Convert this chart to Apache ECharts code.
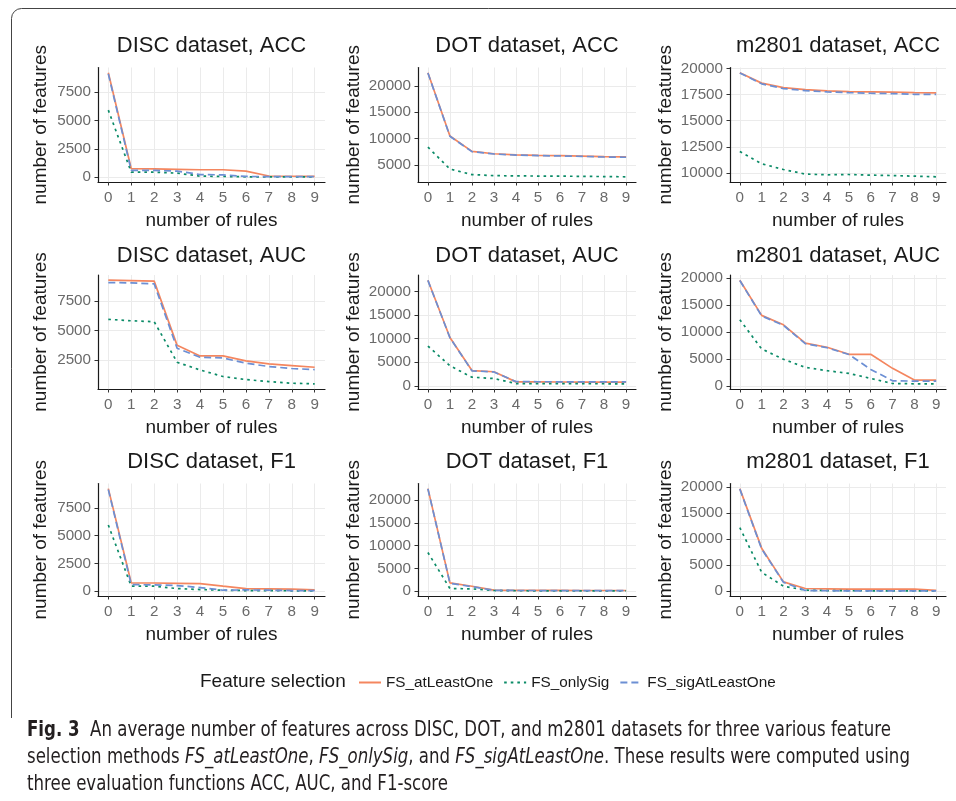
<!DOCTYPE html>
<html>
<head>
<meta charset="utf-8">
<script src="https://cdn.jsdelivr.net/npm/echarts@6/dist/echarts.min.js"></script>
<style>
html,body{margin:0;padding:0;background:#fff;}
#chart{width:956px;height:801px;}
</style>
</head>
<body>
<div id="chart"></div>
<script>
// ---------- DATA ----------
const rules = [0, 1, 2, 3, 4, 5, 6, 7, 8, 9];
const xTicks = [0, 1, 2, 3, 4, 5, 6, 7, 8, 9];
const seriesNames = ['FS_atLeastOne', 'FS_onlySig', 'FS_sigAtLeastOne'];
const datasets = ['DISC', 'DOT', 'm2801'];
const metrics = ['ACC', 'AUC', 'F1'];

// DISC, ACC
const disc_acc_atLeastOne    = [9200, 740, 720, 690, 650, 650, 530, 100, 80, 70];
const disc_acc_onlySig       = [5900, 440, 440, 350, 90, 60, 30, 30, 30, 30];
const disc_acc_sigAtLeastOne = [9100, 600, 590, 530, 230, 200, 60, 50, 50, 50];
// DOT, ACC
const dot_acc_atLeastOne     = [22500, 10500, 7600, 7150, 6950, 6850, 6780, 6700, 6600, 6550];
const dot_acc_onlySig        = [8400, 4250, 3200, 3000, 2950, 2920, 2900, 2870, 2820, 2780];
const dot_acc_sigAtLeastOne  = [22450, 10450, 7550, 7100, 6900, 6800, 6730, 6650, 6530, 6480];
// m2801, ACC
const m2801_acc_atLeastOne    = [19600, 18600, 18170, 17980, 17850, 17790, 17760, 17730, 17690, 17660];
const m2801_acc_onlySig       = [12050, 10870, 10320, 9880, 9810, 9840, 9780, 9740, 9680, 9620];
const m2801_acc_sigAtLeastOne = [19580, 18530, 18080, 17880, 17760, 17690, 17630, 17600, 17530, 17530];
// DISC, AUC
const disc_auc_atLeastOne    = [9280, 9250, 9200, 3740, 2840, 2840, 2420, 2160, 2020, 1880];
const disc_auc_onlySig       = [5950, 5830, 5750, 2300, 1650, 1090, 830, 660, 520, 470];
const disc_auc_sigAtLeastOne = [9080, 9050, 8970, 3490, 2730, 2670, 2220, 1940, 1770, 1680];
// DOT, AUC
const dot_auc_atLeastOne     = [22400, 10250, 3250, 3000, 850, 850, 830, 810, 800, 790];
const dot_auc_onlySig        = [8450, 4260, 1840, 1560, 500, 480, 470, 460, 450, 440];
const dot_auc_sigAtLeastOne  = [22350, 10200, 3200, 2950, 900, 880, 870, 860, 850, 840];
// m2801, AUC
const m2801_auc_atLeastOne    = [19560, 13040, 11300, 7890, 7140, 5840, 5840, 3230, 1060, 1060];
const m2801_auc_onlySig       = [12240, 6830, 4910, 3420, 2800, 2300, 1370, 430, 370, 370];
const m2801_auc_sigAtLeastOne = [19500, 12950, 11200, 7800, 7050, 5800, 3040, 930, 870, 870];
// DISC, F1
const disc_f1_atLeastOne    = [9230, 740, 740, 710, 680, 450, 240, 210, 180, 120];
const disc_f1_onlySig       = [5950, 450, 450, 240, 150, 90, 60, 50, 40, 30];
const disc_f1_sigAtLeastOne = [9140, 600, 570, 510, 330, 90, 120, 90, 60, 60];
// DOT, F1
const dot_f1_atLeastOne     = [22550, 1820, 1090, 220, 200, 180, 170, 160, 150, 150];
const dot_f1_onlySig        = [8510, 580, 510, 150, 100, 90, 80, 80, 70, 70];
const dot_f1_sigAtLeastOne  = [22500, 1750, 1000, 200, 160, 150, 140, 130, 120, 120];
// m2801, F1
const m2801_f1_atLeastOne    = [19680, 8250, 1780, 510, 440, 380, 380, 380, 380, 130];
const m2801_f1_onlySig       = [12190, 3620, 950, 190, 100, 80, 70, 60, 60, 50];
const m2801_f1_sigAtLeastOne = [19600, 8100, 1700, 130, 80, 60, 60, 50, 50, 50];

// y tick labels per panel
const yTicks_disc_acc  = [0, 2500, 5000, 7500];
const yTicks_dot_acc   = [5000, 10000, 15000, 20000];
const yTicks_m2801_acc = [10000, 12500, 15000, 17500, 20000];
const yTicks_disc_auc  = [2500, 5000, 7500];
const yTicks_dot_auc   = [0, 5000, 10000, 15000, 20000];
const yTicks_m2801_auc = [0, 5000, 10000, 15000, 20000];
const yTicks_disc_f1   = [0, 2500, 5000, 7500];
const yTicks_dot_f1    = [0, 5000, 10000, 15000, 20000];
const yTicks_m2801_f1  = [0, 5000, 10000, 15000, 20000];

// ---------- PANELS (row-major) ----------
const panels = [
  {ds: 'DISC',  m: 'ACC', lines: [disc_acc_atLeastOne, disc_acc_onlySig, disc_acc_sigAtLeastOne], ticks: yTicks_disc_acc},
  {ds: 'DOT',   m: 'ACC', lines: [dot_acc_atLeastOne, dot_acc_onlySig, dot_acc_sigAtLeastOne], ticks: yTicks_dot_acc},
  {ds: 'm2801', m: 'ACC', lines: [m2801_acc_atLeastOne, m2801_acc_onlySig, m2801_acc_sigAtLeastOne], ticks: yTicks_m2801_acc},
  {ds: 'DISC',  m: 'AUC', lines: [disc_auc_atLeastOne, disc_auc_onlySig, disc_auc_sigAtLeastOne], ticks: yTicks_disc_auc},
  {ds: 'DOT',   m: 'AUC', lines: [dot_auc_atLeastOne, dot_auc_onlySig, dot_auc_sigAtLeastOne], ticks: yTicks_dot_auc},
  {ds: 'm2801', m: 'AUC', lines: [m2801_auc_atLeastOne, m2801_auc_onlySig, m2801_auc_sigAtLeastOne], ticks: yTicks_m2801_auc},
  {ds: 'DISC',  m: 'F1',  lines: [disc_f1_atLeastOne, disc_f1_onlySig, disc_f1_sigAtLeastOne], ticks: yTicks_disc_f1},
  {ds: 'DOT',   m: 'F1',  lines: [dot_f1_atLeastOne, dot_f1_onlySig, dot_f1_sigAtLeastOne], ticks: yTicks_dot_f1},
  {ds: 'm2801', m: 'F1',  lines: [m2801_f1_atLeastOne, m2801_f1_onlySig, m2801_f1_sigAtLeastOne], ticks: yTicks_m2801_f1}
];

// ---------- LAYOUT / STYLE ----------
const FONT = '"Liberation Sans", Arial, Helvetica, sans-serif';
const CAPFONT = '"DejaVu Sans Condensed", "Liberation Sans", sans-serif';
const colLeft = [98, 418, 730];
const colWidth = [227, 218, 216];
const rowTop = [67.5, 275, 483.5];
const rowHeight = [114.5, 114, 112.5];
const titleTop = [35, 245, 451];
const yNameGap = [48, 55, 55];
const colors = ['#F4865F', '#0B8B67', '#6C8FD4'];
const lineTypes = ['solid', [2.6, 4], [7, 4]];
const tickColor = '#6a6a6a';
const capScale = 0.9;

function expand(lo, hi) { const d = hi - lo; return [lo - 0.05 * d, hi + 0.05 * d]; }

const grid = [], xAxis = [], yAxis = [], series = [], title = [];
panels.forEach((p, i) => {
  const r = Math.floor(i / 3), c = i % 3;
  grid.push({left: colLeft[c], top: rowTop[r], width: colWidth[c], height: rowHeight[r], containLabel: false});
  title.push({
    text: p.ds + ' dataset, ' + p.m,
    left: colLeft[c] + colWidth[c] / 2, top: titleTop[r], textAlign: 'center', padding: 0,
    textStyle: {fontFamily: FONT, fontSize: 22, fontWeight: 'normal', color: '#1a1a1a'}
  });
  const xr = expand(Math.min(...xTicks), Math.max(...xTicks));
  xAxis.push({
    gridIndex: i, type: 'value', min: xr[0], max: xr[1],
    name: 'number of rules', nameLocation: 'middle', nameGap: 29,
    nameTextStyle: {fontFamily: FONT, fontSize: 19, color: '#1a1a1a'},
    axisLine: {show: true, onZero: false, lineStyle: {color: '#1a1a1a', width: 1.2}},
    axisTick: {show: true, customValues: xTicks, length: 3.5, lineStyle: {color: '#333', width: 1}},
    axisLabel: {customValues: xTicks, formatter: v => String(v), fontFamily: FONT, fontSize: 15.2, color: tickColor, margin: 8.5},
    splitLine: {show: true, lineStyle: {color: '#ebebeb', width: 1}}
  });
  const all = [].concat(...p.lines);
  const yr = expand(Math.min(...all), Math.max(...all));
  yAxis.push({
    gridIndex: i, type: 'value', min: yr[0], max: yr[1],
    name: 'number of features', nameLocation: 'middle', nameGap: yNameGap[c], nameRotate: 90,
    nameTextStyle: {fontFamily: FONT, fontSize: 19, color: '#1a1a1a'},
    axisLine: {show: true, onZero: false, lineStyle: {color: '#1a1a1a', width: 1.2}},
    axisTick: {show: true, customValues: p.ticks, length: 3.5, lineStyle: {color: '#333', width: 1}},
    axisLabel: {customValues: p.ticks, formatter: v => String(v), fontFamily: FONT, fontSize: 15.2, color: tickColor, margin: 7},
    splitLine: {show: true, lineStyle: {color: '#ebebeb', width: 1}}
  });
  p.lines.forEach((vals, k) => {
    series.push({
      name: seriesNames[k], type: 'line', xAxisIndex: i, yAxisIndex: i,
      symbol: 'none', silent: true, z: 2 + k,
      data: rules.map((x, j) => [x, vals[j]]),
      lineStyle: {color: colors[k], width: 1.7, type: lineTypes[k]},
      itemStyle: {color: colors[k]}
    });
  });
});

const chart = echarts.init(document.getElementById('chart'), null, {renderer: 'canvas'});
chart.setOption({
  animation: false,
  backgroundColor: '#fff',
  title, grid, xAxis, yAxis, series,
  legend: {
    data: seriesNames, left: 358, top: 675, padding: 0, itemWidth: 22, itemHeight: 14, itemGap: 10,
    selectedMode: false,
    itemStyle: {opacity: 0, borderWidth: 0},
    textStyle: {fontFamily: FONT, fontSize: 15.3, color: '#1a1a1a'}
  },
  graphic: [
    {type: 'line', shape: {x1: 11.5, y1: 718, x2: 11.5, y2: 18.5}, style: {stroke: '#444', lineWidth: 1}, silent: true},
    {type: 'arc', shape: {cx: 21.5, cy: 18.5, r: 10, startAngle: Math.PI, endAngle: Math.PI * 1.5, clockwise: true}, style: {stroke: '#444', lineWidth: 1, fill: null}, silent: true},
    {type: 'line', shape: {x1: 21.5, y1: 8.5, x2: 956, y2: 8.5}, style: {stroke: '#444', lineWidth: 1}, silent: true},
    {type: 'text', left: 200, top: 672, style: {text: 'Feature selection', font: '19px ' + FONT, fill: '#1a1a1a'}, silent: true},
    {type: 'text', x: 27, y: 720, scaleX: capScale, style: {
      text: '{b|Fig. 3}  An average number of features across DISC, DOT, and m2801 datasets for three various feature',
      font: '20.5px ' + CAPFONT, fill: '#231f20',
      rich: {b: {fontFamily: CAPFONT, fontSize: 20.5, fontWeight: 'bold', fill: '#231f20'}}
    }, silent: true},
    {type: 'text', x: 27, y: 747, scaleX: capScale, style: {
      text: 'selection methods {i|FS_atLeastOne}, {i|FS_onlySig}, and {i|FS_sigAtLeastOne}. These results were computed using',
      font: '20.5px ' + CAPFONT, fill: '#231f20',
      rich: {i: {fontFamily: CAPFONT, fontSize: 20.5, fontStyle: 'italic', fill: '#231f20'}}
    }, silent: true},
    {type: 'text', x: 27, y: 774, scaleX: capScale, style: {
      text: 'three evaluation functions ACC, AUC, and F1-score',
      font: '20.5px ' + CAPFONT, fill: '#231f20'
    }, silent: true}
  ]
});
</script>
</body>
</html>
